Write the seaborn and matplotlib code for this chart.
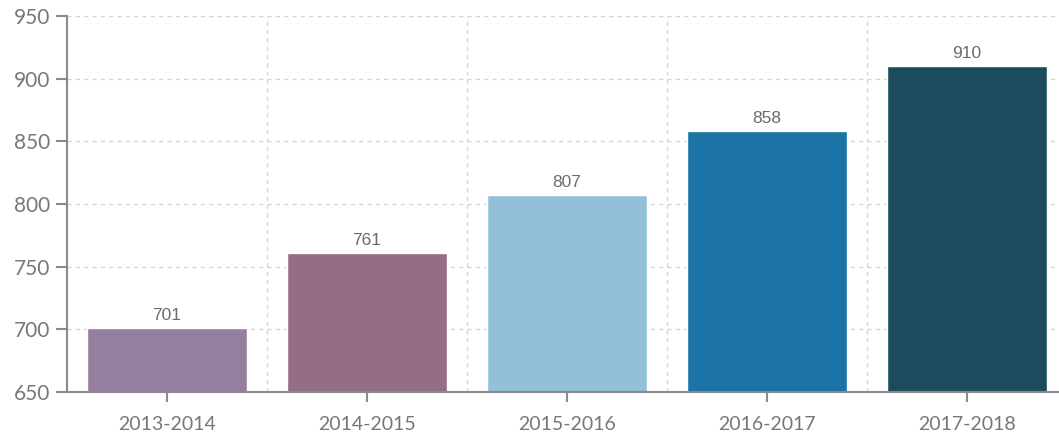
import numpy as np
import pandas as pd
import matplotlib
matplotlib.use('Agg')
import matplotlib.pyplot as plt
import seaborn as sns

years = ['2013-2014', '2014-2015', '2015-2016', '2016-2017', '2017-2018']
values = [701, 761, 807, 858, 910]
colors = ['#957fa0', '#946d86', '#92c0d8', '#1b73a6', '#1d4b5e']
y_ticks = [650, 700, 750, 800, 850, 900, 950]

sns.set_style('white')
plt.rcParams['font.family'] = ['Lato', 'DejaVu Sans']

df = pd.DataFrame({'year': years, 'value': values})

fig = plt.figure(figsize=(10.59, 4.38), dpi=100)
ax = fig.add_axes([67 / 1059, 46 / 438, 1000 / 1059, 376 / 438])

sns.barplot(data=df, x='year', y='value', hue='year', palette=colors,
            width=0.8, saturation=1, legend=False, ax=ax)

ax.set_ylim(650, 950)
ax.set_xlim(-0.5, 4.5)
ax.set_yticks(y_ticks)
ax.set_xlabel('')
ax.set_ylabel('')

# grid: horizontal at y ticks, vertical between categories
for y in y_ticks[1:]:
    ax.axhline(y, color='#d5d5d5', lw=1, ls=(0, (3, 3)), zorder=0)
for x in np.arange(0.5, len(years) - 0.5, 1):
    ax.axvline(x, color='#d5d5d5', lw=1, ls=(0, (3, 3)), zorder=0)

for p, v in zip(ax.patches, values):
    ax.text(p.get_x() + p.get_width() / 2, v + 4, str(v), ha='center', va='bottom',
            fontsize=12.5, color='#6b6b6b', family=['Liberation Sans'])

for s in ['top', 'right']:
    ax.spines[s].set_visible(False)
for s in ['left', 'bottom']:
    ax.spines[s].set_color('#8a8a8a')
    ax.spines[s].set_linewidth(1.5)

ax.tick_params(axis='y', length=8, width=1.5, color='#8a8a8a', labelsize=15,
               labelcolor='#777777', pad=4, left=True)
ax.tick_params(axis='x', length=7, width=1.5, color='#8a8a8a', labelsize=14,
               labelcolor='#777777', pad=10, bottom=True)

fig.savefig('out.png', dpi=100)
